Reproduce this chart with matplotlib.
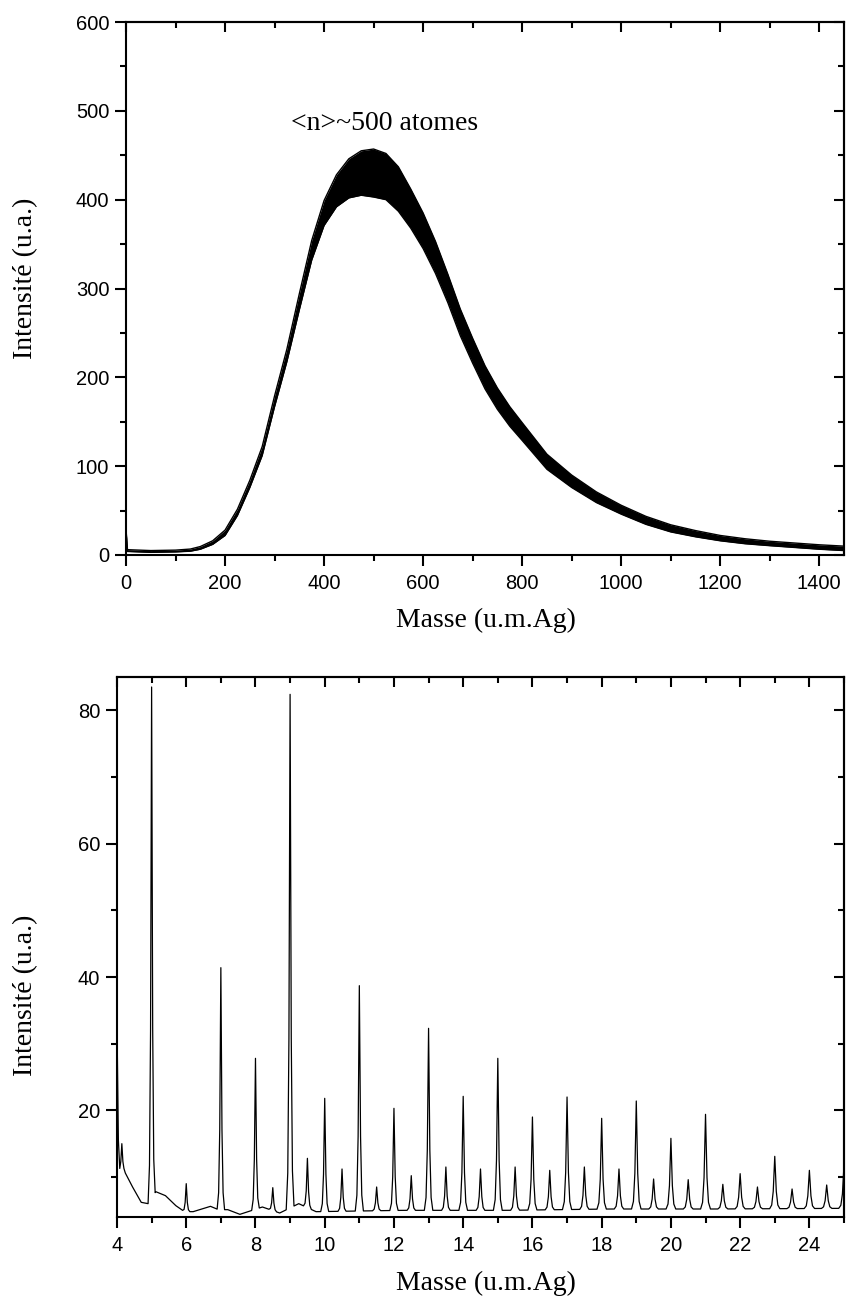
import numpy as np
import matplotlib
matplotlib.use("Agg")
import matplotlib.pyplot as plt
from matplotlib.ticker import MultipleLocator

# ---------------- data: top spectrum (band centre and half-thickness) ----------------
mass_top = [0, 3, 50, 100, 130, 150, 175, 200, 225, 250, 275, 300, 325, 350, 375,
            400, 425, 450, 475, 500, 525, 550, 575, 600, 625, 650, 675, 700, 725,
            750, 775, 800, 850, 900, 950, 1000, 1050, 1100, 1150, 1200, 1250,
            1300, 1350, 1400, 1450]
inten_top = [28, 5, 4, 4.5, 5.5, 8, 14, 25, 48, 80, 117, 173, 225, 285, 343,
             385, 410, 424, 430, 430, 426, 412, 390, 365, 335, 300, 262, 230, 200,
             176, 156, 139, 105, 83, 65, 51, 39, 30, 24, 19, 15.5,
             13, 11, 9, 7.5]
noise_top = [1, 1, 1, 1, 1.2, 1.5, 2, 3, 3.5, 4, 5, 6, 7, 9, 11,
             14, 18, 22, 25, 27, 26, 25, 22, 20, 18, 16, 15, 14, 13,
             12, 11, 10, 8.5, 7, 6, 5, 4.5, 4, 3.5, 3, 2.8,
             2.5, 2.5, 2.5, 2.5]
top_ticks_x = [0, 200, 400, 600, 800, 1000, 1200, 1400]
top_ticks_y = [0, 100, 200, 300, 400, 500, 600]

# ---------------- data: bottom spectrum ----------------
base_x = [4.0, 4.05, 4.2, 4.45, 4.7, 4.9, 5.12, 5.4, 5.7, 5.95, 6.2, 6.7, 6.93,
          7.2, 7.55, 8.2, 8.7, 9.25, 9.75, 12.25, 15.25, 18.25, 21.25, 25]
base_y = [33, 11, 11, 8.5, 6.2, 6.0, 7.8, 7.2, 5.7, 4.8, 4.8, 5.6, 5.1,
          5.1, 4.4, 5.5, 4.6, 6.0, 4.8, 5.0, 5.0, 5.2, 5.2, 5.3]
peak_x = [4.14, 5, 6, 7, 8, 8.5, 9, 9.5, 10, 10.5, 11, 11.5, 12, 12.5, 13, 13.5,
          14, 14.5, 15, 15.5, 16, 16.5, 17, 17.5, 18, 18.5, 19, 19.5, 20, 20.5,
          21, 21.5, 22, 22.5, 23, 23.5, 24, 24.5, 25]
peak_h = [15, 83.5, 9, 41.4, 27.8, 8.4, 82.4, 12.8, 21.8, 11.2, 38.7, 8.5, 20.3,
          10.2, 32.3, 11.5, 22.1, 11.2, 27.8, 11.5, 19.0, 11.0, 22.0, 11.5, 18.8,
          11.2, 21.4, 9.7, 15.8, 9.6, 19.4, 8.9, 10.5, 8.5, 13.1, 8.2, 11.0, 8.8,
          11.8]
bot_ticks_x = [4, 6, 8, 10, 12, 14, 16, 18, 20, 22, 24]
bot_ticks_y = [20, 40, 60, 80]

# ---------------- figure ----------------
W, H = 846, 1302
fig = plt.figure(figsize=(W / 100, H / 100), dpi=100)
TICKFONT = "Liberation Sans"
LABFONT = "Liberation Serif"
LW = 1.5


def style(ax, xmajor, xminor, ymajor, yminor):
    ax.xaxis.set_major_locator(MultipleLocator(xmajor))
    ax.xaxis.set_minor_locator(MultipleLocator(xminor))
    ax.yaxis.set_major_locator(MultipleLocator(ymajor))
    ax.yaxis.set_minor_locator(MultipleLocator(yminor))
    ax.tick_params(which="major", direction="out", length=8, width=LW,
                   labelsize=14.5, pad=4, top=False, right=False)
    ax.tick_params(which="minor", direction="out", length=4.5, width=LW,
                   top=False, right=False)
    ax.tick_params(axis="x", which="major", pad=6)
    for s in ax.spines.values():
        s.set_linewidth(LW)
    for lab in ax.get_xticklabels() + ax.get_yticklabels():
        lab.set_fontfamily(TICKFONT)
    sx = ax.secondary_xaxis("top")
    sx.xaxis.set_major_locator(MultipleLocator(xmajor))
    sx.xaxis.set_minor_locator(MultipleLocator(xminor))
    sx.tick_params(which="major", direction="in", length=7, width=LW, labeltop=False)
    sx.tick_params(which="minor", direction="in", length=4, width=LW)
    sx.spines["top"].set_linewidth(LW)
    sy = ax.secondary_yaxis("right")
    sy.yaxis.set_major_locator(MultipleLocator(ymajor))
    sy.yaxis.set_minor_locator(MultipleLocator(yminor))
    sy.tick_params(which="major", direction="in", length=7, width=LW, labelright=False)
    sy.tick_params(which="minor", direction="in", length=4, width=LW)
    sy.spines["right"].set_linewidth(LW)


# ---- top panel ----
ax1 = fig.add_axes([126 / W, 1 - 555 / H, (844 - 126) / W, (555 - 22) / H])
mt = np.array(mass_top, float)
it = np.array(inten_top, float)
nt = np.array(noise_top, float)
ax1.fill_between(mt, it - nt, it + nt, color="black", lw=0)
ax1.plot(mt, it - nt, color="black", lw=1.0)
ax1.plot(mt, it + nt, color="black", lw=1.0)
ax1.set_xlim(0, 1450)
ax1.set_ylim(0, 600)
style(ax1, 200, 100, 100, 50)
ax1.set_xlabel("Masse (u.m.Ag)", fontfamily=LABFONT, fontsize=20)
ax1.set_ylabel("Intensité (u.a.)", fontfamily=LABFONT, fontsize=20)
ax1.xaxis.set_label_coords(0.501, -0.100)
ax1.yaxis.set_label_coords(-0.1226, 0.52)
ax1.text(523, 478, "<n>~500 atomes", fontfamily=LABFONT, fontsize=20,
         ha="center", va="baseline")

# ---- bottom panel ----
ax2 = fig.add_axes([117 / W, 1 - 1217 / H, (844 - 117) / W, (1217 - 677) / H])
bx = np.array(base_x, float)
by = np.array(base_y, float)
widths = [0.09 + 0.0025 * c for c in peak_x]
xs, ys = [], []
for x0, y0 in zip(bx, by):
    if all(abs(x0 - c) > w for c, w in zip(peak_x, widths)):
        xs.append(x0)
        ys.append(y0)
shape = [(-1.0, 0.0), (-0.6, 0.07), (-0.3, 0.33), (0.0, 1.0),
         (0.3, 0.33), (0.6, 0.07), (1.0, 0.0)]
for c, h, w in zip(peak_x, peak_h, widths):
    for dx, f in shape:
        x = c + dx * w
        if x > 25 or x < 4:
            continue
        b = np.interp(x, bx, by)
        xs.append(x)
        ys.append(b + f * (h - b))
order = np.argsort(xs, kind="stable")
xs = np.array(xs)[order]
ys = np.array(ys)[order]
ax2.plot(xs, ys, color="black", lw=0.9)
ax2.set_xlim(4, 25)
ax2.set_ylim(4, 85)
style(ax2, 2, 1, 20, 10)
ax2.set_xlabel("Masse (u.m.Ag)", fontfamily=LABFONT, fontsize=20)
ax2.set_ylabel("Intensité (u.a.)", fontfamily=LABFONT, fontsize=20)
ax2.xaxis.set_label_coords(0.508, -0.100)
ax2.yaxis.set_label_coords(-0.1087, 0.41)

fig.savefig("out.png", dpi=100)
